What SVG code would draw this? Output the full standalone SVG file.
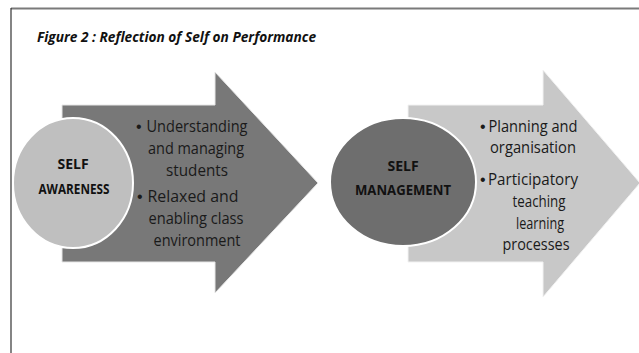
<svg xmlns="http://www.w3.org/2000/svg" width="639" height="353" viewBox="0 0 639 353">
  <style>
    .title { font-family: "Open Sans", "Liberation Sans", sans-serif; font-weight: bold; font-style: italic; font-size: 14px; fill: #111; }
    .lbl { font-family: "Open Sans", "Liberation Sans", sans-serif; font-weight: bold; font-size: 14px; fill: #111; text-anchor: middle; }
    .item { font-family: "Open Sans", "Liberation Sans", sans-serif; font-size: 16.5px; fill: #1a1a1a; text-anchor: middle; }
    .bullet { font-family: "Liberation Sans", sans-serif; font-size: 16px; fill: #1a1a1a; }
    .arrow-dark { fill: #787878; stroke: #e6e6e6; stroke-width: 1; }
    .arrow-light { fill: #c8c8c8; stroke: #f2f2f2; stroke-width: 1; }
    .disc-light { fill: #bfbfbf; stroke: #ffffff; stroke-width: 2; }
    .disc-dark { fill: #6e6e6e; stroke: #ffffff; stroke-width: 2; }
  </style>

  <rect width="639" height="353" fill="#ffffff"/>

  <!-- frame -->
  <g id="frame">
    <line x1="11" y1="8.5" x2="639" y2="8.5" stroke="#7a7a7a" stroke-width="2"/>
    <line x1="11" y1="8" x2="11" y2="353" stroke="#333333" stroke-width="1.2"/>
  </g>

  <text class="title" x="37" y="42" textLength="279" lengthAdjust="spacingAndGlyphs">Figure 2 : Reflection of Self on Performance</text>

  <!-- stage 1 -->
  <g id="awareness-arrow">
    <polygon class="arrow-dark" points="62,105 215,105 215,72 318,183 215,293 215,262 62,262"/>
    <text class="bullet" x="136" y="132">•</text>
    <text class="item" x="197" y="132" textLength="101" lengthAdjust="spacingAndGlyphs">Understanding</text>
    <text class="item" x="196" y="154" textLength="96" lengthAdjust="spacingAndGlyphs">and managing</text>
    <text class="item" x="197" y="176" textLength="62" lengthAdjust="spacingAndGlyphs">students</text>
    <text class="bullet" x="137" y="202">•</text>
    <text class="item" x="193" y="202" textLength="91" lengthAdjust="spacingAndGlyphs">Relaxed and</text>
    <text class="item" x="196" y="224" textLength="95" lengthAdjust="spacingAndGlyphs">enabling class</text>
    <text class="item" x="197" y="246" textLength="87" lengthAdjust="spacingAndGlyphs">environment</text>
  </g>
  <g id="self-awareness">
    <ellipse class="disc-light" cx="73" cy="183" rx="60" ry="65"/>
    <text class="lbl" x="73" y="169">SELF</text>
    <text class="lbl" x="74" y="194" textLength="71" lengthAdjust="spacingAndGlyphs">AWARENESS</text>
  </g>

  <!-- stage 2 -->
  <g id="management-arrow">
    <polygon class="arrow-light" points="408,105 543,105 543,70 640,183 543,297 543,262 408,262"/>
    <text class="bullet" x="480" y="132">•</text>
    <text class="item" x="533" y="132" textLength="89" lengthAdjust="spacingAndGlyphs">Planning and</text>
    <text class="item" x="533" y="153" textLength="86" lengthAdjust="spacingAndGlyphs">organisation</text>
    <text class="bullet" x="480" y="185">•</text>
    <text class="item" x="533" y="185" textLength="90" lengthAdjust="spacingAndGlyphs">Participatory</text>
    <text class="item" x="539" y="207" textLength="53" lengthAdjust="spacingAndGlyphs">teaching</text>
    <text class="item" x="540" y="229" textLength="48" lengthAdjust="spacingAndGlyphs">learning</text>
    <text class="item" x="536" y="250" textLength="67" lengthAdjust="spacingAndGlyphs">processes</text>
  </g>
  <g id="self-management">
    <ellipse class="disc-dark" cx="403" cy="182" rx="73" ry="64"/>
    <text class="lbl" x="403" y="171">SELF</text>
    <text class="lbl" x="403" y="195" textLength="96" lengthAdjust="spacingAndGlyphs">MANAGEMENT</text>
  </g>
</svg>
